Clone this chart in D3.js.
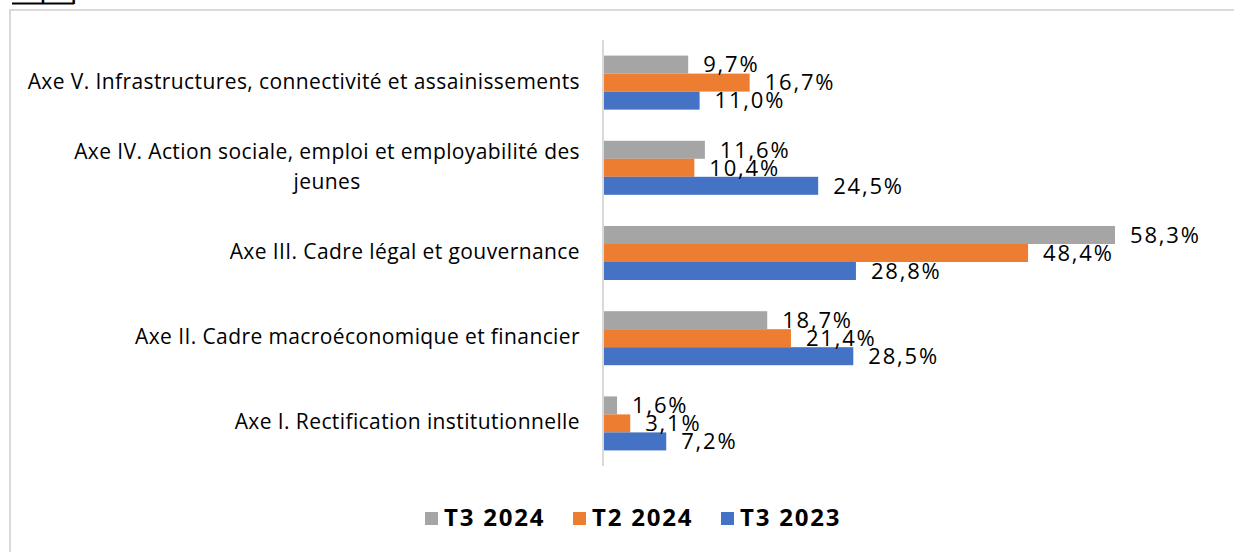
<!DOCTYPE html>
<html>
<head>
<meta charset="utf-8">
<script src="https://d3js.org/d3.v7.min.js"></script>
<style>
  body { margin: 0; background: #fff; }
  svg { display: block; }
</style>
</head>
<body>
<svg id="chart" width="1234" height="552"></svg>
<script>
'use strict';

// categories, top to bottom
let categories = [
  ['Axe V. Infrastructures, connectivité et assainissements'],
  ['Axe IV. Action sociale, emploi et employabilité des', 'jeunes'],
  ['Axe III. Cadre légal et gouvernance'],
  ['Axe II. Cadre macroéconomique et financier'],
  ['Axe I. Rectification institutionnelle'],
];
let seriesNames = ['T3 2024', 'T2 2024', 'T3 2023'];
let seriesColors = ['#a5a5a5', '#ed7d31', '#4472c4'];
let t3_2024 = [9.7, 11.6, 58.3, 18.7, 1.6];
let t2_2024 = [16.7, 10.4, 48.4, 21.4, 3.1];
let t3_2023 = [11.0, 24.5, 28.8, 28.5, 7.2];
let seriesValues = [t3_2024, t2_2024, t3_2023];

let svg = d3.select('#chart');
let labelFont = '"Open Sans", Lato, sans-serif';

// cut-off caption at the very top
svg.append('text')
  .attr('x', 12)
  .attr('y', 0)
  .style('font-family', labelFont)
  .style('font-size', '16px')
  .style('font-weight', 'bold')
  .text('Graphique 5');
svg.append('line')
  .attr('x1', 12).attr('x2', 74)
  .attr('y1', 3.5).attr('y2', 3.5)
  .style('stroke', '#000')
  .style('stroke-width', 2);

// chart frame (runs past right and bottom edges)
svg.append('rect')
  .attr('x', 10)
  .attr('y', 10)
  .attr('width', 1240)
  .attr('height', 560)
  .style('fill', 'none')
  .style('stroke', '#d9d9d9')
  .style('stroke-width', 2);

let x0 = 603;
let x = d3.scaleLinear()
  .domain([0, 58.3])
  .range([x0, 1115]);

let y = d3.scaleBand()
  .domain(d3.range(categories.length))
  .range([40, 466])
  .paddingInner(0.366)
  .paddingOuter(0.183);

let ySub = d3.scaleBand()
  .domain(d3.range(seriesNames.length))
  .range([0, y.bandwidth()]);

// bars
let groups = svg.append('g')
  .classed('groups', true)
  .selectAll('g.group')
  .data(categories)
  .enter()
  .append('g')
  .classed('group', true)
  .attr('transform', (d, i) => `translate(0,${y(i)})`);

groups.each(function(cat, ci) {
  let g = d3.select(this);
  seriesValues.forEach((vals, si) => {
    g.append('rect')
      .attr('x', x(0))
      .attr('y', ySub(si))
      .attr('width', x(vals[ci]) - x(0))
      .attr('height', ySub.bandwidth())
      .style('fill', seriesColors[si]);
  });
  seriesValues.forEach((vals, si) => {
    g.append('text')
      .attr('x', x(vals[ci]) + 15)
      .attr('y', ySub(si) + ySub.bandwidth() / 2 + 2)
      .style('dominant-baseline', 'middle')
      .style('font-family', labelFont)
      .style('font-size', '22px')
      .style('letter-spacing', '1.8px')
      .style('fill', '#000')
      .text(vals[ci].toFixed(1).replace('.', ',') + '%');
  });
});

// vertical axis line
svg.append('line')
  .attr('x1', x0).attr('x2', x0)
  .attr('y1', 40).attr('y2', 466)
  .style('stroke', '#d9d9d9')
  .style('stroke-width', 2);

// category labels
let labelRight = 580;
let lineH = 30;
categories.forEach((lines, i) => {
  let cy = y(i) + y.bandwidth() / 2;
  let t = svg.append('text')
    .style('font-family', labelFont)
    .style('font-size', '21px')
    .style('letter-spacing', '0.4px')
    .style('fill', '#000')
    .style('dominant-baseline', 'middle');
  let spans = lines.map((ln, j) => t.append('tspan')
    .attr('y', cy + (j - (lines.length - 1) / 2) * lineH)
    .text(ln));
  let widths = spans.map(s => s.node().getComputedTextLength());
  let maxW = d3.max(widths);
  let mid = labelRight - maxW / 2;
  spans.forEach(s => {
    s.attr('x', mid).style('text-anchor', 'middle');
  });
});

// legend
let legend = svg.append('g').classed('legend', true);
let legendX = [425, 573, 721];
seriesNames.forEach((name, i) => {
  legend.append('rect')
    .attr('x', legendX[i])
    .attr('y', 512)
    .attr('width', 13)
    .attr('height', 13)
    .style('fill', seriesColors[i]);
  legend.append('text')
    .attr('x', legendX[i] + 19)
    .attr('y', 520)
    .style('dominant-baseline', 'middle')
    .style('font-family', labelFont)
    .style('font-size', '24px')
    .style('font-weight', 'bold')
    .style('letter-spacing', '1.8px')
    .text(name);
});
</script>
</body>
</html>
